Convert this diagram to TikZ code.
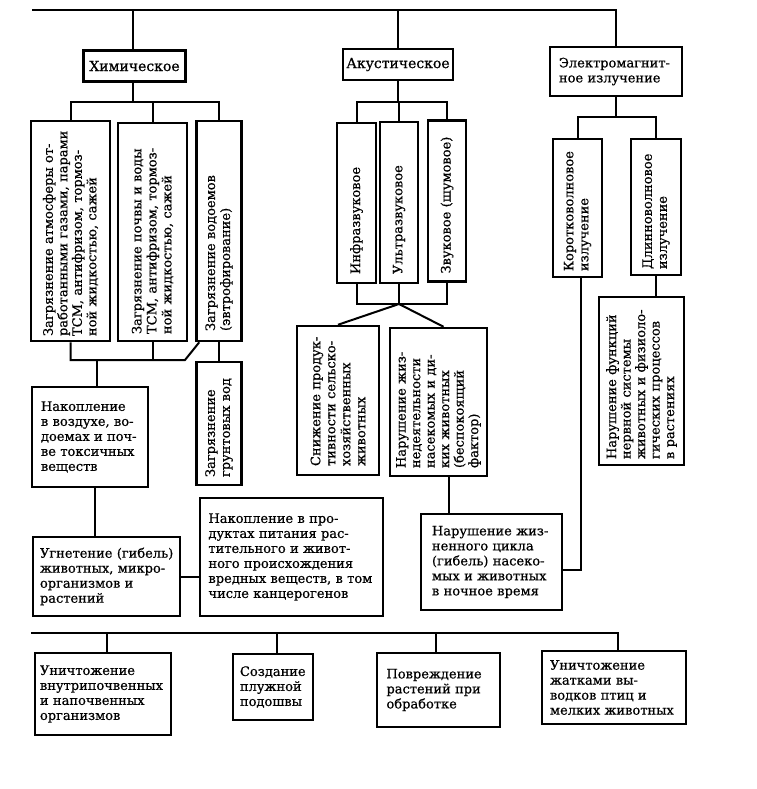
\documentclass[tikz,border=0pt]{standalone}
\usepackage{fontspec}
\newfontfamily\dvs[FakeBold=0.6]{DejaVu Serif}
\usetikzlibrary{calc}
\tikzset{
  box/.style={draw, line width=2.5pt, inner sep=0pt, align=left,
    font={\dvs\fontsize{13pt}{15pt}\selectfont}},
  tight/.style={font={\dvs\fontsize{13pt}{14.5pt}\selectfont}},
  big/.style={font={\dvs\fontsize{14pt}{16pt}\selectfont}},
  vbox/.style={box, rotate=90},
  wire/.style={line width=2pt},
}
\begin{document}
\begin{tikzpicture}[x=1pt,y=-1pt]
\useasboundingbox (0,0) rectangle (756,789);
\fill[white] (0,0) rectangle (756,789);

% top level
\node[box, big, align=center, minimum width=102pt, minimum height=31pt] (chem) at (134.5,66) {Химическое};
\node[box, big, align=center, minimum width=110pt, minimum height=31pt] (acou) at (398,64.5) {Акустическое};
\node[box, minimum width=132pt, minimum height=49pt, text width=114pt] (em) at (616,71.5) {Электромагнит-\\ное~излучение};

% chemical
\node[vbox, tight, minimum width=220pt, minimum height=79pt, text width=210pt] (c1) at (70.5,231) {Загрязнение~атмосферы~от-\\работанными~газами,~парами\\ТСМ,~антифризом,~тормоз-\\ной~жидкостью,~сажей};
\node[vbox, minimum width=218pt, minimum height=69pt, text width=204pt] (c2) at (152.5,232) {Загрязнение~почвы~и~воды\\ТСМ,~антифризом,~тормоз-\\ной~жидкостью,~сажей};
\node[vbox, minimum width=220pt, minimum height=45pt, text width=200pt] (c3) at (219,231) {Загрязнение~водоемов\\(эвтрофирование)};
\node[vbox, minimum width=123pt, minimum height=45pt, text width=107pt] (gw) at (219,423.5) {Загрязнение\\грунтовых~вод};
\node[box, minimum width=116pt, minimum height=100pt, text width=98pt] (acc) at (90,437) {Накопление\\в~воздухе,~во-\\доемах~и~поч-\\ве~токсичных\\веществ};
\node[box, minimum width=147pt, minimum height=79pt, text width=133pt] (ugn) at (106.5,576.5) {Угнетение~(гибель)\\животных,~микро-\\организмов~и\\растений};
\node[box, minimum width=183pt, minimum height=118pt, text width=166pt] (food) at (291.5,557) {Накопление~в~про-\\дуктах~питания~рас-\\тительного~и~живот-\\ного~происхождения\\вредных~веществ,~в~том\\числе~канцерогенов};

% acoustic
\node[vbox, minimum width=160pt, minimum height=39pt, text width=142pt] (a1) at (356.5,203) {Инфразвуковое};
\node[vbox, minimum width=161pt, minimum height=38pt, text width=143pt] (a2) at (399,202.5) {Ультразвуковое};
\node[vbox, minimum width=161pt, minimum height=38pt, text width=145pt] (a3) at (447,201) {Звуковое~(шумовое)};
\node[vbox, minimum width=149pt, minimum height=82pt, text width=131pt] (sn) at (338,400.5) {Снижение~продук-\\тивности~сельско-\\хозяйственных\\животных};
\node[vbox, tight, minimum width=148pt, minimum height=97pt, text width=132pt] (nar) at (438.5,402) {Нарушение~жиз-\\недеятельности\\насекомых~и~ди-\\ких~животных\\(беспокоящий\\фактор)};
\node[box, minimum width=141pt, minimum height=96pt, text width=119pt] (life) at (491.5,562) {Нарушение~жиз-\\ненного~цикла\\(гибель)~насеко-\\мых~и~животных\\в~ночное~время};

% electromagnetic
\node[vbox, minimum width=138pt, minimum height=49pt, text width=126pt] (kw) at (577.5,208) {Коротковолновое\\излучение};
\node[vbox, minimum width=136pt, minimum height=50pt, text width=124pt] (lw) at (656,207) {Длинноволновое\\излучение};
\node[vbox, tight, minimum width=168pt, minimum height=85pt, text width=156pt] (nf) at (641.5,381) {Нарушение~функций\\нервной~системы\\животных~и~физиоло-\\гических~процессов\\в~растениях};

% bottom row
\node[box, minimum width=136pt, minimum height=82pt, text width=126pt] (b1) at (103,694) {Уничтожение\\внутрипочвенных\\и~напочвенных\\организмов};
\node[box, minimum width=80pt, minimum height=66pt, text width=66pt] (b2) at (273,687) {Создание\\плужной\\подошвы};
\node[box, minimum width=123pt, minimum height=74pt, text width=104pt] (b3) at (438.5,690) {Повреждение\\растений~при\\обработке};
\node[box, minimum width=144pt, minimum height=73pt, text width=128pt] (b4) at (614,687.5) {Уничтожение\\жатками~вы-\\водков~птиц~и\\мелких~животных};

% connectors: top
\coordinate (topL) at (32,10.5);
\coordinate (cbar) at (0,102.5);
\coordinate (ebar) at (0,117);
\coordinate (dgl) at (185,360);
\coordinate (J) at (399,304);
\coordinate (botL) at (31,633);
\draw[wire] (topL) -| (em.north);
\draw[wire] ([xshift=-1.5pt]chem.north) -- ([xshift=-1.5pt]chem.north |- topL);
\draw[wire] (acou.north) -- (acou.north |- topL);

% chemical branch
\draw[wire] ([xshift=-1.5pt]chem.south) -- ([xshift=-1.5pt]chem.south |- cbar);
\draw[wire] (c1.east) -- (c1.east |- cbar) -- (c3.east |- cbar) -- (c3.east);
\draw[wire] (c2.east) -- (c2.east |- cbar);
\draw[wire] (c1.west) |- (dgl) -- ([xshift=4pt]c3.north west);
\draw[wire] (c2.west) -- (c2.west |- dgl);
\draw[wire] (c3.west) -- (gw.east);
\draw[wire] ([xshift=7pt]acc.north) -- ([xshift=7pt]acc.north |- dgl);
\draw[wire] ([xshift=5pt]acc.south) -- ([xshift=5pt]acc.south |- ugn.north);
\draw[wire] (ugn.east) -- (ugn.east -| food.west);

% acoustic branch
\draw[wire] (acou.south) -- (acou.south |- cbar);
\draw[wire] (a1.east) -- (a1.east |- cbar) -- (a3.east |- cbar) -- (a3.east);
\draw[wire] (a2.east) -- (a2.east |- cbar);
\draw[wire] (a1.west) -- (a1.west |- J) -- (a3.west |- J) -- (a3.west);
\draw[wire] (a2.west) -- (J);
\draw[wire] (sn.east) -- (J) -- ([xshift=5pt]nar.east);
\draw[wire] ([xshift=10pt]nar.west) -- ([xshift=10pt]nar.west |- life.north);
\draw[wire] ([yshift=-8pt]life.east) -| ([xshift=3pt]kw.west);

% electromagnetic branch
\draw[wire] (em.south) -- (em.south |- ebar);
\draw[wire] (kw.east) -- (kw.east |- ebar) -- (lw.east |- ebar) -- (lw.east);
\draw[wire] (lw.west) -- (lw.west |- nf.east);

% bottom row
\draw[wire] (botL) -| ([xshift=4pt]b4.north);
\draw[wire] ([xshift=4pt]b1.north) -- ([xshift=4pt]b1.north |- botL);
\draw[wire] ([xshift=4pt]b2.north) -- ([xshift=4pt]b2.north |- botL);
\draw[wire] ([xshift=-2.5pt]b3.north) -- ([xshift=-2.5pt]b3.north |- botL);
\end{tikzpicture}
\end{document}
